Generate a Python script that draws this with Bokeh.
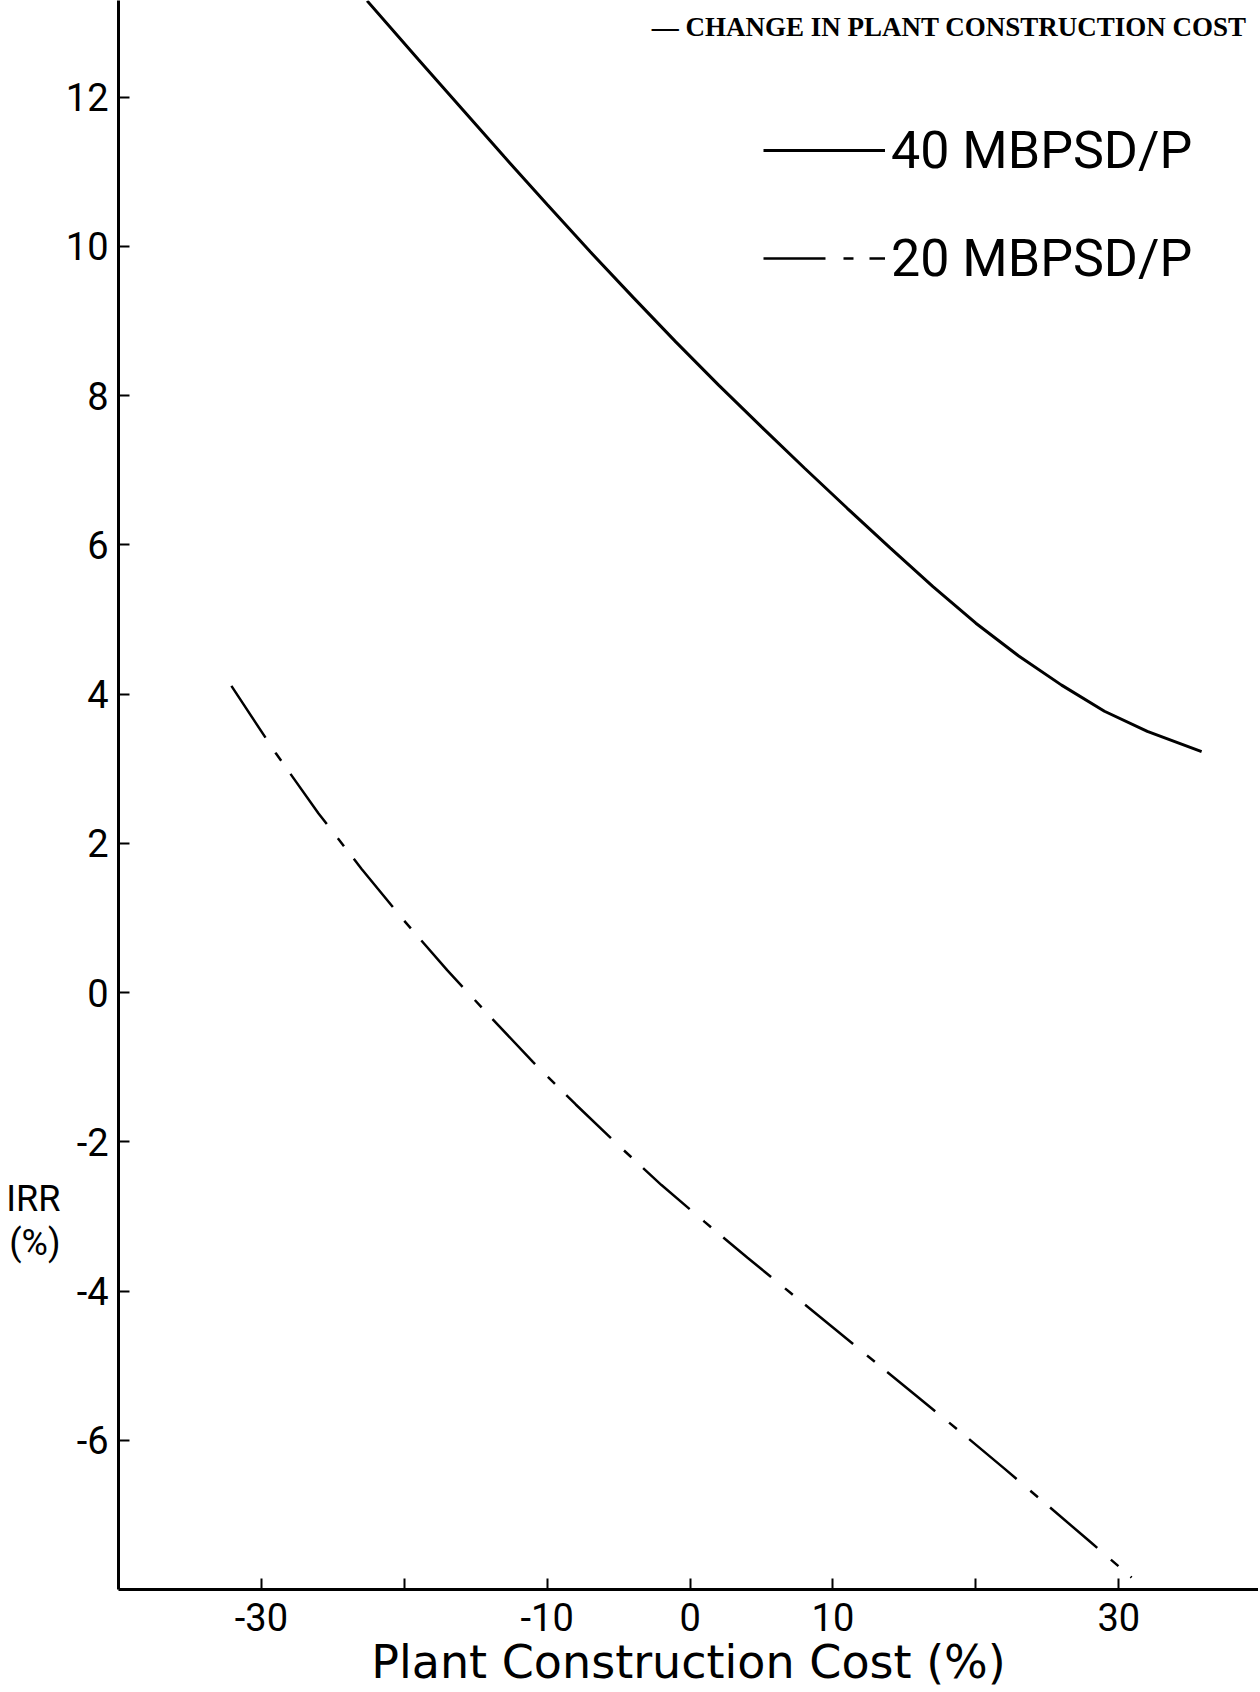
from bokeh.plotting import figure
from bokeh.models import Range1d, FixedTicker, Label, Legend, LegendItem, LinearAxis
from bokeh.embed import file_html
from bokeh.resources import INLINE

# ---- data ----
cost_40 = [-22.6, -19, -16, -13, -10, -7, -4, -1, 2, 5, 8, 11, 14, 17, 20, 23, 26, 29, 32, 35.8]
irr_40 = [13.29, 12.50, 11.85, 11.20, 10.56, 9.93, 9.32, 8.72, 8.14, 7.58, 7.03, 6.49,
          5.96, 5.44, 4.95, 4.51, 4.12, 3.77, 3.50, 3.23]

cost_20 = [-32.1, -29, -26, -23, -20, -17, -14, -11, -8, -5, -2, 1, 4, 7, 10, 13, 16,
           19, 22, 25, 28, 30.9]
irr_20 = [4.11, 3.21, 2.40, 1.66, 0.96, 0.30, -0.32, -0.93, -1.50, -2.05, -2.58, -3.07,
          -3.55, -4.02, -4.49, -4.96, -5.43, -5.90, -6.38, -6.87, -7.36, -7.84]

series_labels = ["40 MBPSD/P", "20 MBPSD/P"]

x_ticks = [-30, -20, -10, 0, 10, 20, 30]
x_tick_labels = ["-30", "", "-10", "0", "10", "", "30"]
y_ticks = [-6, -4, -2, 0, 2, 4, 6, 8, 10, 12]
y_tick_labels = ["-6", "-4", "-2", "0", "2", "4", "6", "8", "10", "12"]

title_text = "\u2014 CHANGE IN PLANT CONSTRUCTION COST"
x_title = "Plant Construction Cost (%)"
y_title_lines = ["IRR", "(%)"]
y_title_pos = [-2.77, -3.35]   # vertical placement of the y title lines

FONT = "Roboto"

p = figure(width=1258, height=1691,
           x_range=Range1d(-40, 39.78), y_range=Range1d(-8, 13.295),
           output_backend="svg", toolbar_location=None,
           min_border_left=118, min_border_right=0, min_border_top=0,
           min_border_bottom=101, outline_line_color=None,
           background_fill_color="white", border_fill_color="white")
p.grid.visible = False

r40 = p.line(cost_40, irr_40, line_width=3, line_color="black")
r20 = p.line(cost_20, irr_20, line_width=2.5, line_color="black",
             line_dash="62 18 10 16")

# axes
for ax in (p.xaxis[0], p.yaxis[0]):
    ax.axis_line_width = 3
    ax.axis_line_color = "black"
    ax.major_tick_line_width = 2
    ax.major_tick_line_color = "black"
    ax.major_tick_in = 11
    ax.major_tick_out = 0
    ax.minor_tick_line_color = None
    ax.major_label_text_font = FONT
    ax.major_label_text_font_size = "38px"
    ax.major_label_text_color = "black"

p.xaxis.ticker = FixedTicker(ticks=x_ticks)
p.xaxis.major_label_overrides = dict(zip(x_ticks, x_tick_labels))
p.xaxis.major_label_standoff = 13
p.xaxis.axis_label = x_title
p.xaxis.axis_label_standoff = 1
p.xaxis.axis_label_text_font = "DejaVu Sans"
p.xaxis.axis_label_text_font_style = "normal"
p.xaxis.axis_label_text_font_size = "46px"
p.xaxis.axis_label_text_color = "black"

p.yaxis.ticker = FixedTicker(ticks=y_ticks)
p.yaxis.major_label_overrides = dict(zip(y_ticks, y_tick_labels))
p.yaxis.major_label_standoff = 10

# y title "IRR (%)", written horizontally beside the tick labels
y_title_axis = LinearAxis(ticker=FixedTicker(ticks=y_title_pos),
                          major_label_overrides=dict(zip(y_title_pos, y_title_lines)),
                          axis_line_color=None, major_tick_line_color=None,
                          minor_tick_line_color=None, major_tick_in=0,
                          major_tick_out=0, major_label_standoff=2,
                          major_label_text_font=FONT,
                          major_label_text_font_size="36px",
                          major_label_text_color="black")
p.add_layout(y_title_axis, "left")

# legend (location = bottom-left corner, relative to the frame)
legend = Legend(items=[LegendItem(label=series_labels[0], renderers=[r40]),
                       LegendItem(label=series_labels[1], renderers=[r20])],
                location=(645, 1299), padding=0, margin=0, spacing=44,
                glyph_width=122, glyph_height=64, label_height=64,
                label_standoff=6, label_text_font=FONT,
                label_text_font_size="52px", label_text_color="black",
                background_fill_alpha=0, border_line_alpha=0)
p.add_layout(legend)

# caption fragment at the top right
p.add_layout(Label(x=1128, y=1563, x_units="screen", y_units="screen",
                   text=title_text, text_font="Liberation Serif",
                   text_font_style="bold", text_font_size="27px",
                   text_align="right", text_baseline="middle", text_color="black"))

open("out.html", "w").write(file_html(p, INLINE))
